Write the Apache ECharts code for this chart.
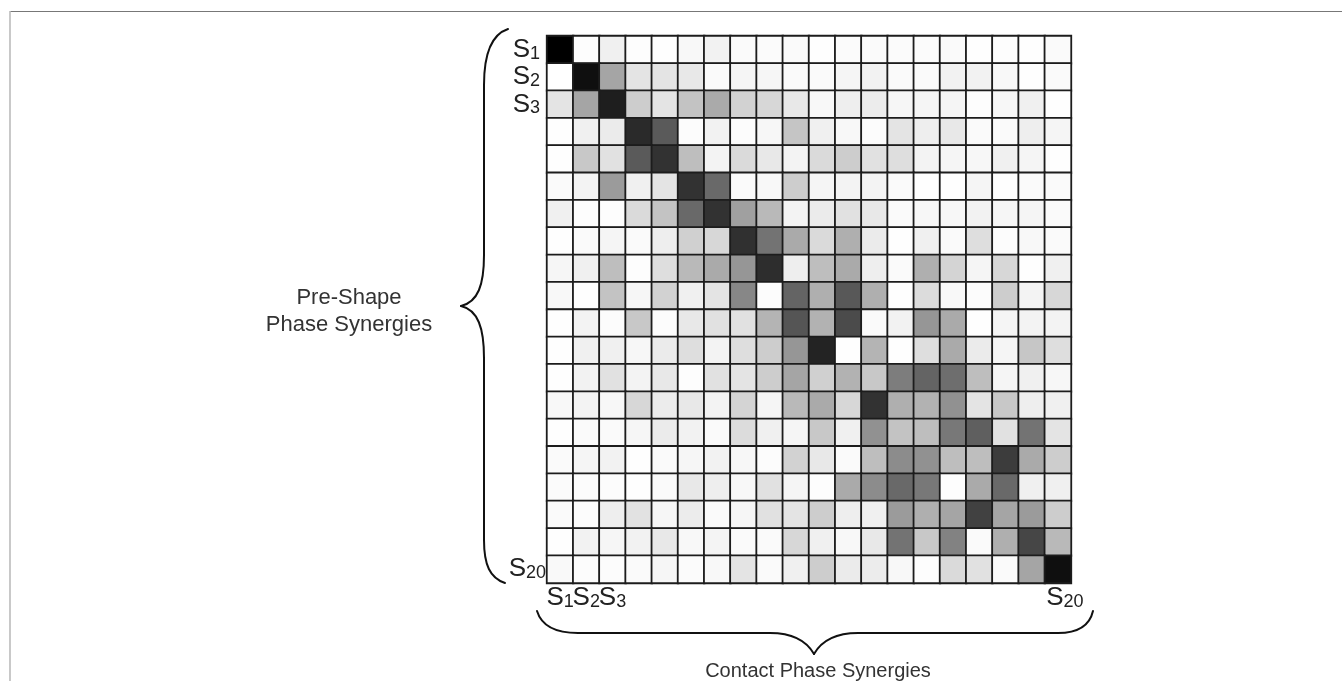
<!DOCTYPE html>
<html><head><meta charset="utf-8">
<style>html,body{margin:0;padding:0;background:#fff}#c{width:1342px;height:681px}</style>
<script src="https://cdn.jsdelivr.net/npm/echarts@6/dist/echarts.min.js"></script>
</head><body><div id="c"></div>
<script>
const categories = ['S1','S2','S3','S4','S5','S6','S7','S8','S9','S10','S11','S12','S13','S14','S15','S16','S17','S18','S19','S20'];
const shownLabels = ['S1','S2','S3','S20'];
const xTitle = 'Contact Phase Synergies';
const yTitle = ['Pre-Shape','Phase Synergies'];
// Cell grey level (0 = black, 255 = white); one row per pre-shape synergy.
const r1  = [0,253,240,253,254,248,242,250,251,250,254,251,250,251,251,250,254,253,254,250];
const r2  = [255,15,165,228,228,232,250,245,246,250,250,245,242,250,250,242,242,248,254,250];
const r3  = [228,165,30,205,228,195,170,210,215,232,248,238,236,246,245,245,253,247,240,254];
const r4  = [254,240,235,42,90,252,242,252,247,197,240,248,252,228,238,232,250,250,238,245];
const r5  = [254,200,225,90,50,190,243,218,232,243,218,205,225,222,243,245,247,240,245,254];
const r6  = [250,243,155,240,228,50,105,250,248,205,245,243,243,250,254,254,245,254,250,250];
const r7  = [240,253,253,218,195,105,50,160,185,243,235,225,232,250,247,247,242,246,245,250];
const r8  = [254,250,245,250,238,208,215,48,115,170,218,175,235,254,240,250,222,252,248,250];
const r9  = [246,240,190,253,222,185,170,150,45,238,190,170,238,250,175,212,245,215,254,240];
const r10 = [248,254,195,246,210,240,228,135,252,100,175,88,175,254,220,248,252,205,243,215];
const r11 = [254,243,252,200,252,232,225,225,180,85,178,75,250,242,150,170,254,245,243,243];
const r12 = [254,240,240,247,235,222,243,222,205,150,35,254,180,254,222,170,235,245,198,222];
const r13 = [254,242,225,243,232,253,225,228,205,165,208,178,200,125,100,110,190,245,240,247];
const r14 = [248,243,247,215,236,232,243,212,245,185,170,215,50,175,178,145,228,200,238,240];
const r15 = [254,250,250,246,235,242,250,220,240,245,200,240,145,195,190,120,95,225,115,228];
const r16 = [250,245,242,254,250,246,242,247,252,210,232,250,190,140,145,190,190,60,170,205];
const r17 = [251,252,252,254,250,232,238,248,225,245,253,170,140,105,120,253,170,105,240,240];
const r18 = [250,252,238,226,246,236,250,246,225,228,205,238,240,155,175,165,65,165,155,205];
const r19 = [254,242,246,242,232,248,244,250,250,215,240,248,232,115,200,130,250,175,70,185];
const r20 = [249,252,252,250,246,251,248,228,250,240,205,235,236,248,253,218,225,250,165,15];
const rows = [r1,r2,r3,r4,r5,r6,r7,r8,r9,r10,r11,r12,r13,r14,r15,r16,r17,r18,r19,r20];

const data = [];
rows.forEach((row,y)=>row.forEach((v,x)=>data.push([x,y,v])));
const FONT = 'Liberation Sans, Arial, sans-serif';
function subY(name){
  if(!shownLabels.includes(name)) return '';
  return '{s|S}{n|'+name.slice(1)+'}'+(name==='S20'?'':'{h|}');
}
function subX(name){
  if(!shownLabels.includes(name)) return '';
  return (name==='S20'?'{g|}':'')+'{s|S}{n|'+name.slice(1)+'}';
}
const rich = {
  s:{fontSize:26,color:'#222',fontFamily:FONT,verticalAlign:'bottom',lineHeight:26},
  n:{fontSize:18,color:'#222',fontFamily:FONT,verticalAlign:'bottom',lineHeight:18,padding:[8,0,0,0]},
  g:{width:14,fontSize:1,lineHeight:1},
  h:{width:6,fontSize:1,lineHeight:1}
};
const braceStyle = {fill:'none',stroke:'#111',lineWidth:2,lineCap:'round'};
function curve(x1,y1,cpx1,cpy1,cpx2,cpy2,x2,y2){
  return {type:'bezierCurve',silent:true,shape:{x1,y1,cpx1,cpy1,cpx2,cpy2,x2,y2},style:braceStyle};
}
function seg(x1,y1,x2,y2){
  return {type:'line',silent:true,shape:{x1,y1,x2,y2},style:braceStyle};
}
const chart = echarts.init(document.getElementById('c'),null,{renderer:'canvas'});
chart.setOption({
  animation:false,
  backgroundColor:'#fff',
  grid:{left:547,top:36,width:524,height:547},
  xAxis:{type:'category',data:categories,position:'bottom',
    axisLine:{show:false},axisTick:{show:false},splitLine:{show:false},splitArea:{show:false},
    axisLabel:{interval:0,margin:2,formatter:subX,rich:rich,hideOverlap:false}},
  yAxis:{type:'category',data:categories,inverse:true,
    axisLine:{show:false},axisTick:{show:false},splitLine:{show:false},splitArea:{show:false},
    axisLabel:{interval:0,margin:1,formatter:subY,rich:rich,hideOverlap:false}},
  visualMap:{show:false,min:0,max:255,dimension:2,inRange:{color:['#000000','#ffffff']}},
  series:[{type:'heatmap',data:data,progressive:0,
    itemStyle:{borderColor:'#1c1c1c',borderWidth:1.8},emphasis:{disabled:true}}],
  graphic:[
    {type:'line',silent:true,shape:{x1:10,y1:11.5,x2:1342,y2:11.5},style:{stroke:'#777',lineWidth:1.2}},
    {type:'line',silent:true,shape:{x1:10,y1:11,x2:10,y2:681},style:{stroke:'#bbb',lineWidth:1.6}},
    curve(508,29,493,34,484,50,484,85), seg(484,85,484,255),
    curve(484,255,484,285,478,302,461,306), curve(461,306,478,310,484,328,484,358),
    seg(484,358,484,540), curve(484,540,484,565,490,578,505,583),
    curve(537,611,541,624,553,633,578,633), seg(578,633,770,633),
    curve(770,633,792,633,806,640,814,654), curve(814,654,822,640,836,633,858,633),
    seg(858,633,1058,633), curve(1058,633,1080,633,1090,624,1093,611),
    {type:'text',silent:true,x:349,y:298,style:{text:yTitle[0],font:'22px '+FONT,fill:'#333',align:'center',verticalAlign:'middle'}},
    {type:'text',silent:true,x:349,y:325,style:{text:yTitle[1],font:'22px '+FONT,fill:'#333',align:'center',verticalAlign:'middle'}},
    {type:'text',silent:true,x:818,y:671,style:{text:xTitle,font:'20px '+FONT,fill:'#333',align:'center',verticalAlign:'middle'}}
  ]
});
</script></body></html>
